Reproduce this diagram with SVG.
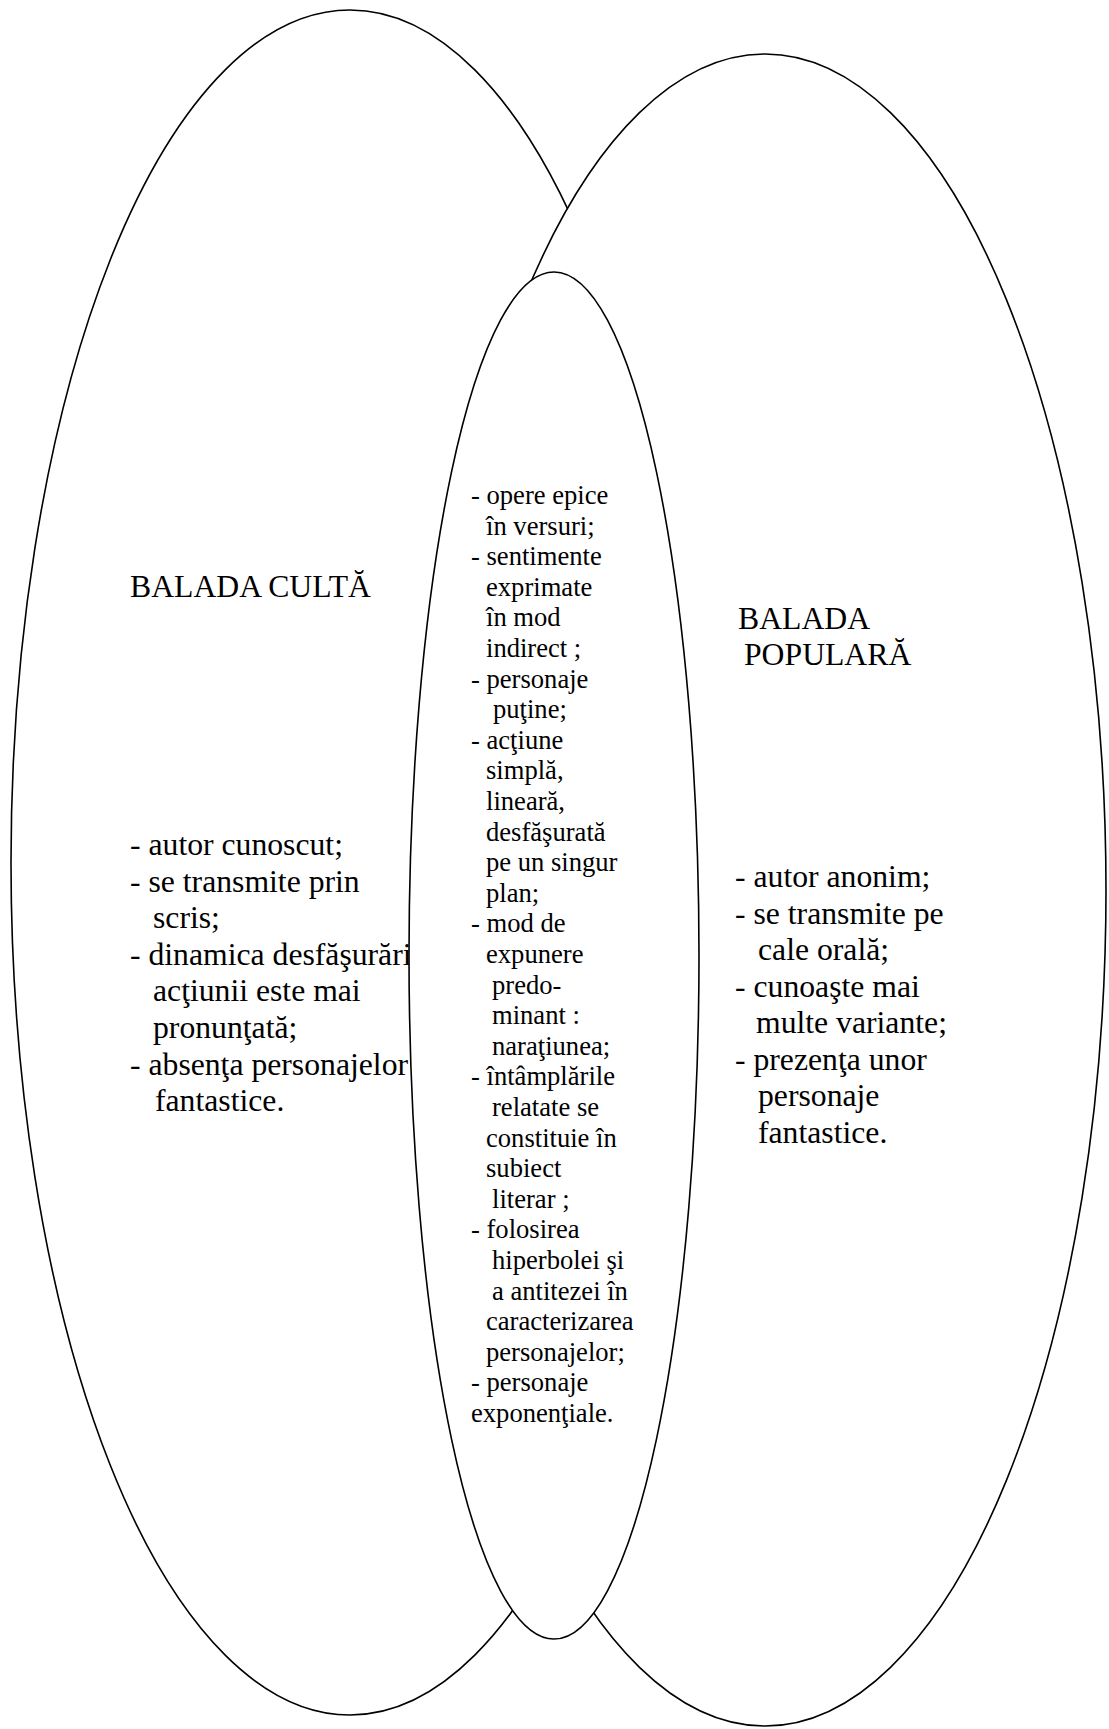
<svg xmlns="http://www.w3.org/2000/svg" width="1109" height="1729" viewBox="0 0 1109 1729">
<style>
.shape{fill:#fff;stroke:#000;stroke-width:1.6}
.big{font-family:"Liberation Serif","Times New Roman",serif;font-size:31.7px;fill:#000}
.small{font-family:"Liberation Serif","Times New Roman",serif;font-size:26.6px;fill:#000}
</style>
<rect width="1109" height="1729" fill="#fff"/>
<g id="balada-culta">
<ellipse class="shape" cx="350" cy="862.5" rx="339" ry="852.5"/>
<text class="big" x="130" y="597">BALADA CULTĂ</text>
<text class="big">
<tspan x="130" y="855">- autor cunoscut;</tspan>
<tspan x="130" y="891.6">- se transmite prin</tspan>
<tspan x="153" y="928.2">scris;</tspan>
<tspan x="130" y="964.8">- dinamica desfăşurări</tspan>
<tspan x="153" y="1001.4">acţiunii este mai</tspan>
<tspan x="153" y="1038">pronunţată;</tspan>
<tspan x="130" y="1074.6">- absenţa personajelor</tspan>
<tspan x="155" y="1111.2">fantastice.</tspan>
</text>
</g>
<g id="balada-populara">
<ellipse class="shape" cx="765" cy="890" rx="341" ry="836"/>
<text class="big"><tspan x="738" y="629">BALADA</tspan><tspan x="744" y="665">POPULARĂ</tspan></text>
<text class="big">
<tspan x="735" y="887">- autor anonim;</tspan>
<tspan x="735" y="923.5">- se transmite pe</tspan>
<tspan x="758" y="960">cale orală;</tspan>
<tspan x="735" y="996.5">- cunoaşte mai</tspan>
<tspan x="756" y="1033">multe variante;</tspan>
<tspan x="735" y="1069.5">- prezenţa unor</tspan>
<tspan x="758" y="1106">personaje</tspan>
<tspan x="758" y="1142.5">fantastice.</tspan>
</text>
</g>
<g id="comune">
<ellipse class="shape" cx="554" cy="955.5" rx="145" ry="683.5"/>
<text class="small">
<tspan x="471" y="504">- opere epice</tspan>
<tspan x="486" y="534.6">în versuri;</tspan>
<tspan x="471" y="565.2">- sentimente</tspan>
<tspan x="486" y="595.8">exprimate</tspan>
<tspan x="486" y="626.4">în mod</tspan>
<tspan x="486" y="657">indirect ;</tspan>
<tspan x="471" y="687.6">- personaje</tspan>
<tspan x="493" y="718.2">puţine;</tspan>
<tspan x="471" y="748.8">- acţiune</tspan>
<tspan x="486" y="779.4">simplă,</tspan>
<tspan x="486" y="810">lineară,</tspan>
<tspan x="486" y="840.6">desfăşurată</tspan>
<tspan x="486" y="871.2">pe un singur</tspan>
<tspan x="486" y="901.8">plan;</tspan>
<tspan x="471" y="932.4">- mod de</tspan>
<tspan x="486" y="963">expunere</tspan>
<tspan x="492" y="993.6">predo-</tspan>
<tspan x="492" y="1024.2">minant :</tspan>
<tspan x="492" y="1054.8">naraţiunea;</tspan>
<tspan x="471" y="1085.4">- întâmplările</tspan>
<tspan x="492" y="1116">relatate se</tspan>
<tspan x="486" y="1146.6">constituie în</tspan>
<tspan x="486" y="1177.2">subiect</tspan>
<tspan x="492" y="1207.8">literar ;</tspan>
<tspan x="471" y="1238.4">- folosirea</tspan>
<tspan x="492" y="1269">hiperbolei şi</tspan>
<tspan x="492" y="1299.6">a antitezei în</tspan>
<tspan x="486" y="1330.2">caracterizarea</tspan>
<tspan x="486" y="1360.8">personajelor;</tspan>
<tspan x="471" y="1391.4">- personaje</tspan>
<tspan x="471" y="1422">exponenţiale.</tspan>
</text>
</g>
<g id="connectors"/>
</svg>
